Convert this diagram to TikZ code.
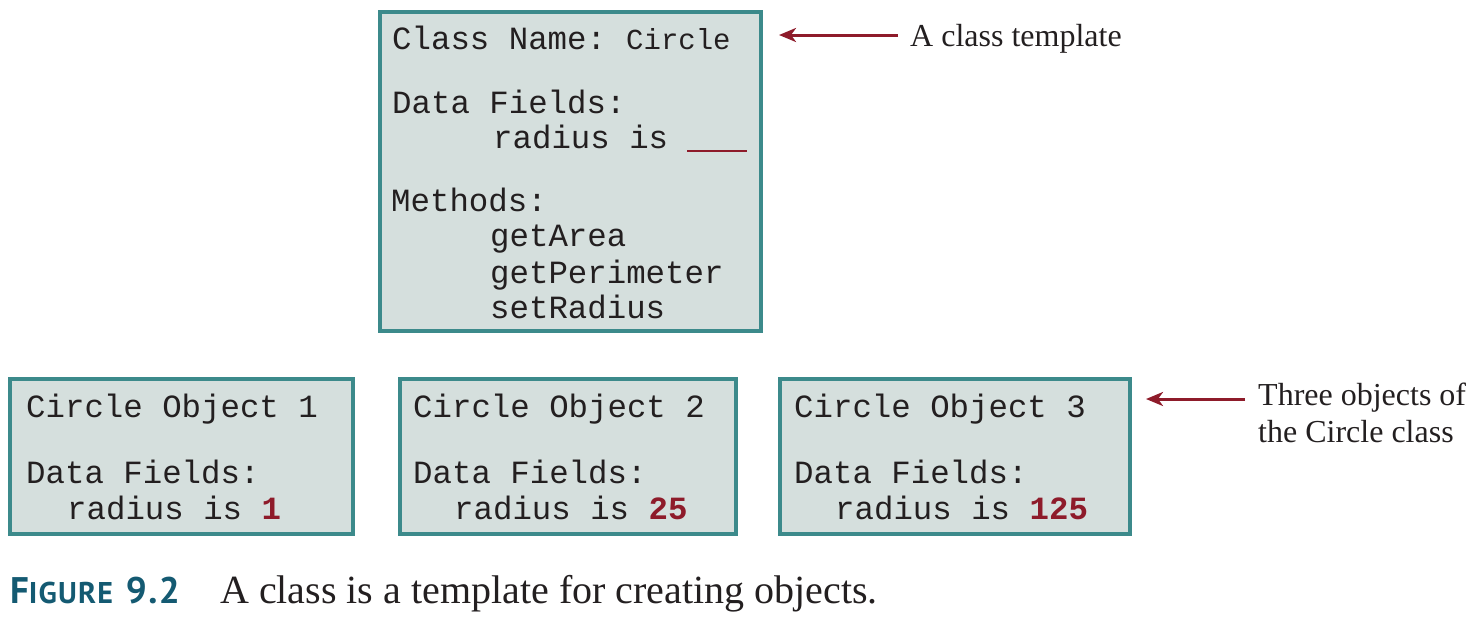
\documentclass[tikz,border=0pt]{standalone}
\usepackage{fontspec}
\setmainfont{Liberation Serif}
\setmonofont{Liberation Mono}
\newfontfamily\capfont[LetterSpace=4]{PT Sans}
\usetikzlibrary{arrows.meta}
\definecolor{boxedge}{HTML}{3C8A8B}
\definecolor{boxfill}{HTML}{D5DFDD}
\definecolor{darkred}{HTML}{8E1B2A}
\definecolor{capblue}{HTML}{145A72}
\definecolor{ink}{HTML}{231F20}
\begin{document}
\begin{tikzpicture}[x=1pt,y=-1pt,
  box/.style={draw=boxedge,fill=boxfill,line width=4pt},
  mono/.style={anchor=base west,inner sep=0pt,text=ink,font=\ttfamily\fontsize{32.4}{40}\selectfont},
  monosm/.style={anchor=base west,inner sep=0pt,text=ink,font=\ttfamily\fontsize{29}{35}\selectfont},
  serif/.style={anchor=base west,inner sep=0pt,text=ink,font=\fontsize{32}{37}\selectfont},
  redarrow/.style={draw=darkred,line width=3pt,-{Stealth[length=17pt,width=14pt,inset=5pt]}}]
\useasboundingbox (0,0) rectangle (1478,622);
% boxes
\draw[box] (380,12) rectangle (761,331);
\coordinate (clsE) at (763,35);
\draw[box] (10,379) rectangle (353,534);
\draw[box] (400,379) rectangle (736,534);
\draw[box] (780,379) rectangle (1130,534);
\coordinate (objE) at (1132,399);
% class template text
\node[mono] (cn) at (392,49) {Class Name:};
\node[monosm] (cc) at (626,49) {Circle};
\node[mono] (df) at (392,113) {Data Fields:};
\node[mono] (rad) at (493,148) {radius is};
\coordinate (ul1) at (687,151);
\coordinate (ul2) at (747,151);
\draw[darkred,line width=2.5pt] (ul1) -- (ul2);
\node[mono] (me) at (391,211) {Methods:};
\node[mono] (m1) at (490,246) {getArea};
\node[mono] (m2) at (490,283) {getPerimeter};
\node[mono] (m3) at (490,318) {setRadius};
% objects
\node[mono] (o1) at (26,417) {Circle Object 1};
\node[mono] (o1d) at (26,483) {Data Fields:};
\node[mono] (o1r) at (67,519) {radius is {\bfseries\color{darkred}1}};
\node[mono] (o2) at (413,417) {Circle Object 2};
\node[mono] (o2d) at (413,483) {Data Fields:};
\node[mono] (o2r) at (454,519) {radius is {\bfseries\color{darkred}25}};
\node[mono] (o3) at (794,417) {Circle Object 3};
\node[mono] (o3d) at (794,483) {Data Fields:};
\node[mono] (o3r) at (835,519) {radius is {\bfseries\color{darkred}125}};
% labels
\node[serif] (tmpl) at (910,46) {A class template};
\node[serif,align=left,anchor=north west] (three) at (1258,383) {Three objects of\\the Circle class};
\coordinate (a1s) at (898,35);
\coordinate (a2s) at (1245,399);
\draw[redarrow] (a1s) -- ([xshift=16pt]clsE);
\draw[redarrow] (a2s) -- ([xshift=14pt]objE);
% caption
\node[anchor=base west,inner sep=0pt,text=capblue,font=\capfont\bfseries] (fig) at (10,603)
  {\fontsize{37}{40}\selectfont F\fontsize{30}{34}\selectfont IGURE\hspace{4pt} \fontsize{37}{40}\selectfont 9.2};
\node[anchor=base west,inner sep=0pt,text=ink,font=\fontsize{40}{44}\selectfont] (cap) at (220,603)
  {A class is a template for creating objects.};
\end{tikzpicture}
\end{document}
